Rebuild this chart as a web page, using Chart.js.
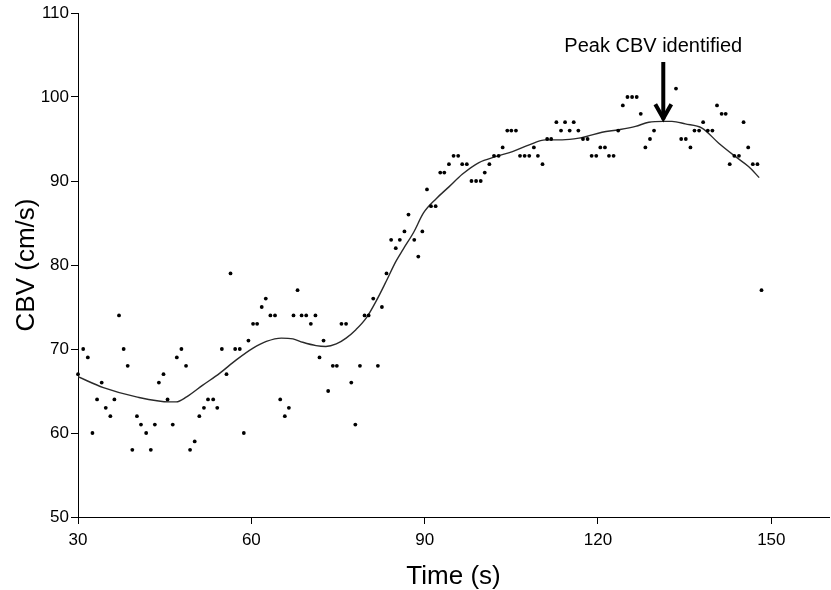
<!DOCTYPE html>
<html>
<head>
<meta charset="utf-8">
<script src="https://cdn.jsdelivr.net/npm/chart.js@4.4.1/dist/chart.umd.min.js"></script>
<style>
  html, body { margin: 0; padding: 0; background: #fff; }
  #wrap { width: 831px; height: 590px; position: relative; }
</style>
</head>
<body>
<div id="wrap"><canvas id="c" width="831" height="590"></canvas></div>
<script>
// Measured samples: time (s) and CBV (cm/s)
const times = [
  30.0,30.9,31.7,32.5,33.3,34.1,34.8,35.6,36.3,37.1,
  37.9,38.6,39.4,40.2,40.9,41.8,42.6,43.3,44.0,44.8,
  45.5,46.4,47.1,47.9,48.7,49.4,50.2,51.0,51.8,52.5,
  53.4,54.1,54.9,55.7,56.4,57.2,58.0,58.7,59.5,60.3,
  61.0,61.8,62.5,63.3,64.1,65.0,65.8,66.5,67.3,68.0,
  68.7,69.5,70.3,71.1,71.8,72.5,73.3,74.1,74.8,75.6,
  76.4,77.3,78.0,78.8,79.6,80.3,81.1,81.9,82.6,83.4,
  84.2,85.0,85.7,86.5,87.2,88.2,88.9,89.6,90.4,91.1,
  91.9,92.7,93.4,94.2,95.0,95.8,96.5,97.3,98.1,98.9,
  99.7,100.4,101.2,102.0,102.8,103.5,104.3,105.0,105.8,106.5,
  107.3,108.1,108.9,109.6,110.4,111.2,111.9,112.8,113.6,114.3,
  115.1,115.8,116.6,117.4,118.2,118.9,119.7,120.4,121.2,121.9,
  122.7,123.5,124.3,125.1,125.9,126.7,127.4,128.2,129.0,129.7,
  133.5,134.4,135.2,136.0,136.7,137.5,138.2,139.0,139.8,140.6,
  141.4,142.1,142.8,143.6,144.4,145.2,146.0,146.8,147.6,148.3
];
const cbv = [
  67,70,69,60,64,66,63,62,64,74,
  70,68,58,62,61,60,58,61,66,67,
  64,61,69,70,68,58,59,62,63,64,
  64,63,70,67,79,70,70,60,71,73,
  73,75,76,74,74,64,62,63,74,77,
  74,74,73,74,69,71,65,68,68,73,
  73,66,61,68,74,74,76,68,75,79,
  83,82,83,84,86,83,81,84,89,87,
  87,91,91,92,93,93,92,92,90,90,
  90,91,92,93,93,94,96,96,96,93,
  93,93,94,93,92,95,95,97,96,97,
  96,97,96,95,95,93,93,94,94,93,
  93,96,99,100,100,100,98,94,95,96,
  101,95,95,94,96,96,97,96,96,99,
  98,98,92,93,93,97,94,92,92,77
];
// Smoothed fit curve
const fitTimes = [30,34.4,40.1,45.9,47.0,48.8,51.6,54.5,57.4,60.3,62.6,65.2,67.2,68.9,71.2,72.9,74.7,76.4,78.1,79.9,81.6,83.3,85.0,86.3,88.1,89.8,92.0,94.2,96.5,99.4,102.3,105.2,108.1,110.9,113.8,116.7,118.0,120.7,123.6,126.5,128.8,131.3,132.8,135.1,138.0,140.9,143.8,146.1,147.9];
const fitCbv   = [66.7,65.4,64.3,63.7,63.7,64.3,65.7,67.1,68.7,70.1,70.9,71.3,71.2,70.8,70.4,70.3,70.6,71.3,72.3,73.7,75.7,78.0,80.4,81.9,83.9,86.2,87.9,89.3,90.8,92.2,92.9,93.5,94.3,94.9,94.9,95.1,95.3,95.8,96.1,96.5,97.0,97.1,97.1,96.8,96.3,94.5,92.9,91.7,90.4];
// Axis ticks
const xTickValues = [30, 60, 90, 120, 150];
const yTickValues = [50, 60, 70, 80, 90, 100, 110];
// Annotation
const peakLabel = 'Peak CBV identified';
const peakTime = 131.3;
const peakCbv = 97.1;

const FONT = "'Liberation Sans', Arial, sans-serif";

const annotationPlugin = {
  id: 'peakArrow',
  afterDatasetsDraw(chart) {
    const {ctx, scales} = chart;
    const x = scales.x.getPixelForValue(peakTime);
    const tipY = scales.y.getPixelForValue(peakCbv);
    ctx.save();
    ctx.strokeStyle = '#000';
    ctx.lineWidth = 4;
    ctx.lineCap = 'butt';
    ctx.beginPath();
    ctx.moveTo(x, 62);
    ctx.lineTo(x, tipY - 2);
    ctx.stroke();
    ctx.lineJoin = 'miter';
    ctx.beginPath();
    ctx.moveTo(x - 8, tipY - 17);
    ctx.lineTo(x, tipY - 3);
    ctx.lineTo(x + 8, tipY - 17);
    ctx.stroke();
    ctx.fillStyle = '#000';
    ctx.font = '20px ' + FONT;
    ctx.textAlign = 'center';
    ctx.textBaseline = 'alphabetic';
    ctx.fillText(peakLabel, x - 10, 52);
    ctx.restore();
  }
};

new Chart(document.getElementById('c'), {
  type: 'scatter',
  data: {
    datasets: [
      {
        label: 'Fit',
        type: 'line',
        data: fitTimes.map((t, i) => ({x: t, y: fitCbv[i]})),
        borderColor: '#2a2a2a',
        borderWidth: 1.4,
        pointRadius: 0,
        fill: false,
        cubicInterpolationMode: 'monotone',
        order: 2
      },
      {
        label: 'CBV',
        data: times.map((t, i) => ({x: t, y: cbv[i]})),
        backgroundColor: '#000',
        borderWidth: 0,
        pointRadius: 1.9,
        pointHoverRadius: 1.9,
        clip: false,
        order: 1
      }
    ]
  },
  options: {
    responsive: false,
    animation: false,
    devicePixelRatio: 1,
    layout: { padding: { top: 13, right: 1, left: 0, bottom: 0 } },
    plugins: { legend: { display: false }, tooltip: { enabled: false } },
    scales: {
      x: {
        type: 'linear',
        min: 30,
        max: 160,
        afterBuildTicks(scale) { scale.ticks = xTickValues.map(v => ({value: v})); },
        afterFit(scale) { scale.height = 73; },
        border: { display: true, color: '#000', width: 1 },
        grid: { drawOnChartArea: false, drawTicks: true, tickLength: 7, color: '#000' },
        ticks: { color: '#000', font: { family: FONT, size: 17 }, padding: 6, maxRotation: 0 },
        title: {
          display: true, text: 'Time (s)', color: '#000',
          font: { family: FONT, size: 26, lineHeight: 1 },
          padding: { top: 0, bottom: 0 }
        }
      },
      y: {
        type: 'linear',
        min: 50,
        max: 110,
        afterBuildTicks(scale) { scale.ticks = yTickValues.map(v => ({value: v})); },
        afterFit(scale) { scale.width = 78; },
        border: { display: true, color: '#000', width: 1 },
        grid: { drawOnChartArea: false, drawTicks: true, tickLength: 7, color: '#000' },
        ticks: { color: '#000', font: { family: FONT, size: 17 }, padding: 2 },
        title: {
          display: true, text: 'CBV (cm/s)', color: '#000',
          font: { family: FONT, size: 26, lineHeight: 1.2 },
          padding: { top: 11, bottom: 0 }
        }
      }
    }
  },
  plugins: [annotationPlugin]
});
</script>
</body>
</html>
